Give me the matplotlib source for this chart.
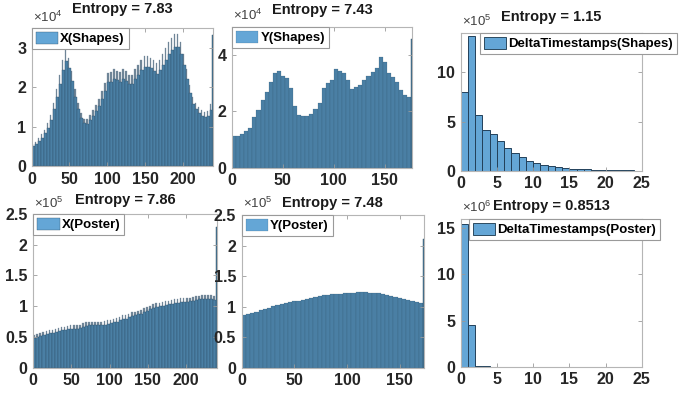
import numpy as np
import matplotlib
matplotlib.use("Agg")
import matplotlib.pyplot as plt

plt.rcParams['font.family'] = ['Liberation Sans Narrow', 'Liberation Sans', 'DejaVu Sans']
plt.rcParams['mathtext.fontset'] = 'custom'
plt.rcParams['mathtext.rm'] = 'Liberation Sans'

# X(Shapes), counts x1e4, bins of 4 px: tall (even) and short (odd) halves
x_shapes_tall = [0.55, 0.62, 0.70, 0.80, 0.92, 1.08, 1.30, 1.60, 1.95, 2.30, 2.70, 2.95, 2.75, 2.40, 1.95,
                 1.60, 1.35, 1.20, 1.18, 1.30, 1.42, 1.55, 1.70, 1.90, 2.10, 2.35, 2.38, 2.45, 2.42, 2.38,
                 2.45, 2.40, 2.30, 2.32, 2.45, 2.55, 2.70, 2.78, 2.80, 2.75, 2.68, 2.60, 2.70, 2.85, 3.00,
                 3.15, 3.25, 3.35, 3.35, 3.15, 2.85, 2.45, 2.05, 1.75, 1.60, 1.50, 1.42, 1.38, 1.40, 1.58]
x_shapes_short = [0.50, 0.56, 0.63, 0.72, 0.83, 0.97, 1.17, 1.44, 1.76, 2.07, 2.43, 2.66, 2.48, 2.16, 1.76,
                  1.44, 1.22, 1.08, 1.06, 1.17, 1.28, 1.40, 1.53, 1.71, 1.89, 2.12, 2.14, 2.21, 2.18, 2.14,
                  2.21, 2.16, 2.07, 2.09, 2.21, 2.30, 2.43, 2.50, 2.52, 2.48, 2.41, 2.34, 2.43, 2.57, 2.70,
                  2.84, 2.93, 3.02, 3.02, 2.84, 2.57, 2.21, 1.85, 1.58, 1.44, 1.35, 1.28, 1.24, 1.26, 1.42]
x_shapes_last = 3.33

# Y(Shapes), counts x1e4, bins of 4 px
y_shapes = [1.12, 1.13, 1.20, 1.30, 1.40, 1.80, 2.05, 2.40, 2.70, 3.05, 3.35, 3.45, 3.25, 3.20, 2.85,
            2.20, 1.88, 1.82, 1.82, 1.90, 2.10, 2.30, 2.85, 3.00, 3.10, 3.50, 3.45, 3.38, 3.10, 2.80,
            2.87, 2.95, 3.12, 3.27, 3.40, 3.55, 3.95, 3.75, 3.35, 3.22, 3.05, 2.75, 2.60, 2.50]
y_shapes_last = 4.56

# DeltaTimestamps(Shapes), counts x1e5
dt_shapes = [7.96, 13.67, 5.68, 4.15, 3.71, 3.00, 2.28, 1.77, 1.43, 1.02, 0.75, 0.61, 0.44,
             0.34, 0.27, 0.20, 0.17, 0.14, 0.10, 0.085, 0.07, 0.05, 0.04, 0.03, 0.02]

# X(Poster), counts x1e5
x_poster_tall = [0.53, 0.55, 0.57, 0.58, 0.60, 0.61, 0.62, 0.63, 0.64, 0.66, 0.67, 0.68, 0.69, 0.69, 0.69,
                 0.70, 0.72, 0.74, 0.75, 0.75, 0.75, 0.75, 0.75, 0.76, 0.77, 0.78, 0.80, 0.81, 0.83, 0.85,
                 0.86, 0.88, 0.90, 0.91, 0.93, 0.94, 0.97, 0.99, 1.01, 1.03, 1.05, 1.06, 1.07, 1.08, 1.09,
                 1.10, 1.11, 1.12, 1.13, 1.13, 1.13, 1.14, 1.15, 1.16, 1.17, 1.18, 1.18, 1.18, 1.18, 1.17]
x_poster_short = [0.48, 0.50, 0.52, 0.53, 0.55, 0.56, 0.57, 0.58, 0.59, 0.61, 0.62, 0.63, 0.63, 0.63, 0.63,
                  0.64, 0.66, 0.68, 0.69, 0.69, 0.69, 0.69, 0.69, 0.70, 0.71, 0.72, 0.74, 0.75, 0.77, 0.79,
                  0.80, 0.82, 0.84, 0.85, 0.87, 0.88, 0.91, 0.93, 0.95, 0.97, 0.99, 1.00, 1.01, 1.02, 1.03,
                  1.04, 1.05, 1.06, 1.07, 1.07, 1.07, 1.08, 1.09, 1.10, 1.11, 1.11, 1.11, 1.11, 1.11, 1.10]
x_poster_last = 2.29

# Y(Poster), counts x1e5
y_poster = [0.86, 0.875, 0.90, 0.92, 0.94, 0.955, 0.98, 1.01, 1.03, 1.05, 1.065, 1.075, 1.085, 1.10, 1.115,
            1.13, 1.145, 1.16, 1.175, 1.185, 1.195, 1.20, 1.205, 1.21, 1.215, 1.22, 1.23, 1.235, 1.24, 1.235,
            1.23, 1.225, 1.22, 1.21, 1.195, 1.18, 1.165, 1.145, 1.13, 1.11, 1.095, 1.07, 1.06]
y_poster_last = 2.10

# DeltaTimestamps(Poster), counts x1e6
dt_poster = [15.5, 4.47, 0.08, 0.03, 0.02, 0.015, 0.012, 0.01, 0.008, 0, 0, 0, 0,
             0, 0, 0, 0, 0, 0, 0, 0, 0, 0, 0, 0]

titles = ["Entropy = 7.83", "Entropy = 7.43", "Entropy = 1.15",
          "Entropy = 7.86", "Entropy = 7.48", "Entropy = 0.8513"]
labels = ["X(Shapes)", "Y(Shapes)", "DeltaTimestamps(Shapes)",
          "X(Poster)", "Y(Poster)", "DeltaTimestamps(Poster)"]
exps = [4, 4, 5, 5, 5, 6]

W, H = 684, 397
fig = plt.figure(figsize=(W / 100, H / 100), dpi=100)

def pax(l, r, t, b):
    return fig.add_axes([l / W, 1 - b / H, (r - l) / W, (b - t) / H])

# pixel boxes: left, right, top, bottom
boxes = [(31.7, 213, 28, 166), (232, 412.3, 27, 167.7), (460.7, 641.7, 33, 170.7),
         (33.3, 217.3, 214, 367.7), (241.7, 424, 215, 367.7), (460.7, 641.7, 219, 366.7)]
axs = [pax(*b) for b in boxes]

dense_fc = '#4a7fa4'
dense_ec = '#2b4a60'
sparse_fc = '#64a6d6'
sparse_ec = '#22405a'


def striped(ax, tall, short, last, xmax, lab):
    n = len(tall)
    left = np.arange(n) * 4
    # even columns (taller), drawn thin and grey so the top band looks like MATLAB's edge-heavy rendering
    ax.bar(left, tall, width=2, align='edge', color='#6f8597', edgecolor='#6f8597', linewidth=0.2)
    ax.bar(left, short, width=4, align='edge', color=dense_fc, edgecolor=dense_ec, linewidth=0.25, label=lab)
    ax.bar([n * 4 - 1], [last], width=1, align='edge', color=dense_fc, edgecolor=dense_ec, linewidth=0.3)
    ax.set_xlim(0, xmax)


def smooth(ax, vals, last, xmax, lab):
    n = len(vals)
    left = np.arange(n) * 4
    ax.bar(left, vals, width=4, align='edge', color=dense_fc, edgecolor=dense_ec, linewidth=0.12, label=lab)
    ax.bar([xmax - 1], [last], width=1, align='edge', color=dense_fc, edgecolor=dense_ec, linewidth=0.3)
    ax.set_xlim(0, xmax)


def sparse(ax, vals, lab):
    ax.bar(np.arange(len(vals)), vals, width=1, align='edge', color=sparse_fc,
           edgecolor=sparse_ec, linewidth=0.7, label=lab)
    ax.set_xlim(0, 25)


striped(axs[0], x_shapes_tall, x_shapes_short, x_shapes_last, 240, labels[0])
smooth(axs[1], y_shapes, y_shapes_last, 177, labels[1])
sparse(axs[2], dt_shapes, labels[2])
striped(axs[3], x_poster_tall, x_poster_short, x_poster_last, 241, labels[3])
smooth(axs[4], y_poster, y_poster_last, 173, labels[4])
sparse(axs[5], dt_poster, labels[5])

ylims = [3.5, 5, 14, 2.5, 2.5, 16]
yticks = [[0, 1, 2, 3], [0, 2, 4], [0, 5, 10], [0, 0.5, 1, 1.5, 2, 2.5], [0, 0.5, 1, 1.5, 2, 2.5], [0, 5, 10, 15]]
xticks = [[0, 50, 100, 150, 200], [0, 50, 100, 150], [0, 5, 10, 15, 20, 25],
          [0, 50, 100, 150, 200], [0, 50, 100, 150], [0, 5, 10, 15, 20, 25]]
title_pads = [11, 9.5, 8.5, 7, 6, 6.5]
leg_x = [0, 0, 0.107, 0, 0, 0.046]

for i, ax in enumerate(axs):
    ax.set_ylim(0, ylims[i])
    ax.set_yticks(yticks[i])
    ax.set_yticklabels([('%g' % v) for v in yticks[i]])
    ax.set_xticks(xticks[i])
    ax.tick_params(direction='in', length=3, width=0.6, color='#9a9a9a', labelsize=11.5,
                   labelcolor='#262626', top=True, right=True)
    ax.tick_params(axis='x', pad=4)
    ax.tick_params(axis='y', pad=4)
    for lbl in ax.get_xticklabels() + ax.get_yticklabels():
        lbl.set_fontweight('bold')
    for s in ax.spines.values():
        s.set_color('#b5b5b5')
        s.set_linewidth(0.8)
    ax.set_title(titles[i], fontsize=10.5, fontweight='bold', color='#1a1a1a', pad=title_pads[i])
    bh = boxes[i][3] - boxes[i][2]
    ax.text(0.005, 1 + 3.5 / bh, r'$\times10^{%d}$' % exps[i], transform=ax.transAxes, fontsize=9.5,
            color='#404040', ha='left', va='bottom')
    leg = ax.legend(loc='upper left', bbox_to_anchor=(leg_x[i], 1.0), borderaxespad=0,
                    prop={'weight': 'bold', 'size': 9.5}, fancybox=False, framealpha=1,
                    handlelength=1.7, handleheight=1.0, handletextpad=0.15, borderpad=0.3)
    leg.get_frame().set_edgecolor('#9a9a9a')
    leg.get_frame().set_linewidth(0.8)
    for p in leg.get_patches():
        p.set_facecolor('#64a6d6')
        p.set_edgecolor('#2b4a60')

fig.savefig("out.png", dpi=100)
